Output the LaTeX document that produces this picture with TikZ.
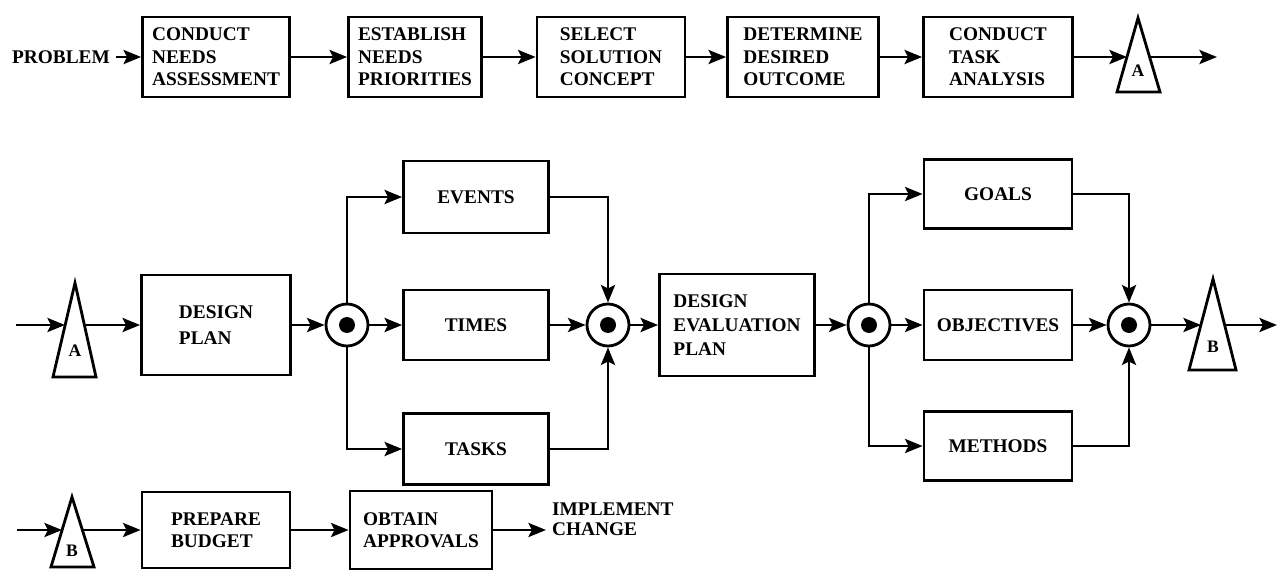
\documentclass[tikz,border=0pt]{standalone}
\usepackage{fontspec}
\setmainfont{Liberation Serif}
\usetikzlibrary{arrows.meta}
\tikzset {>={Stealth[length=10pt,width=8pt,inset=2pt]}}

\begin{document}
\begin{tikzpicture}[x=0.02cm,y=-0.02cm,
  font=\fontsize{11}{12.8}\selectfont\bfseries,
  box/.style={draw,line width=1.6pt,align=left,inner sep=2pt},
  flow/.style={->,line width=1.6pt},
  tri/.style={line width=1.6pt,line join=miter},
  tag/.style={font=\fontsize{10}{10}\selectfont\bfseries,inner sep=0pt},
  dot/.style={draw,circle,line width=1.6pt,minimum size=0.84cm,inner sep=0pt,
    path picture={\fill (path picture bounding box.center) circle (0.16cm);}}]
\useasboundingbox (0,0) rectangle (1278,571);

% top row
\node[anchor=east] (prob) at (116,57) {PROBLEM};
\node[box,minimum width=2.94cm,minimum height=1.6cm] (needs) at (216,57) {CONDUCT\\NEEDS\\ASSESSMENT};
\node[box,minimum width=2.66cm,minimum height=1.6cm] (prio) at (415,57) {ESTABLISH\\NEEDS\\PRIORITIES};
\node[box,minimum width=2.96cm,minimum height=1.6cm] (concept) at (611,57) {SELECT\\SOLUTION\\CONCEPT};
\node[box,minimum width=3.02cm,minimum height=1.6cm] (outcome) at (803,57) {DETERMINE\\DESIRED\\OUTCOME};
\node[box,minimum width=2.98cm,minimum height=1.6cm] (task) at (998,57) {CONDUCT\\TASK\\ANALYSIS};
\draw[tri] (1117,92) -- (1138,18) -- (1160,92) -- cycle;
\node[tag] (tagA1) at (1138,71) {A};
\coordinate (inA1) at (1127,57);
\coordinate (outA1) at (1150,57);
\coordinate (endA1) at (1217,57);
\draw[flow] (prob) -- (needs);
\draw[flow] (needs) -- (prio);
\draw[flow] (prio) -- (concept);
\draw[flow] (concept) -- (outcome);
\draw[flow] (outcome) -- (task);
\draw[flow] (task) -- (inA1);
\draw[flow] (outA1) -- (endA1);

% middle row
\coordinate (startA2) at (16,325);
\draw[tri] (53,377) -- (75,283) -- (96,377) -- cycle;
\node[tag] (tagA2) at (75,351) {A};
\coordinate (inA2) at (65,325);
\coordinate (outA2) at (85,325);
\node[box,minimum width=2.98cm,minimum height=2cm] (plan) at (216,325) {DESIGN\\[2pt]PLAN};
\node[dot] (c1) at (347,325) {};
\node[box,minimum width=2.9cm,minimum height=1.44cm] (events) at (476,197) {EVENTS};
\node[box,minimum width=2.9cm,minimum height=1.4cm] (times) at (476,325) {TIMES};
\node[box,minimum width=2.9cm,minimum height=1.42cm] (tasks) at (476,449) {TASKS};
\node[dot] (c2) at (608,325) {};
\node[box,minimum width=3.1cm,minimum height=2.04cm] (evalplan) at (737,325) {DESIGN\\[1pt]EVALUATION\\[1pt]PLAN};
\node[dot] (c3) at (869,325) {};
\node[box,minimum width=2.96cm,minimum height=1.38cm] (goals) at (998,194) {GOALS};
\node[box,minimum width=2.96cm,minimum height=1.4cm] (objectives) at (998,325) {OBJECTIVES};
\node[box,minimum width=2.96cm,minimum height=1.38cm] (methods) at (998,446) {METHODS};
\node[dot] (c4) at (1129,325) {};
\draw[tri] (1189,370) -- (1213,279) -- (1236,370) -- cycle;
\node[tag] (tagB1) at (1213,347) {B};
\coordinate (inB1) at (1201,325);
\coordinate (outB1) at (1225,325);
\coordinate (endB1) at (1277,325);
\draw[flow] (startA2) -- (inA2);
\draw[flow] (outA2) -- (plan);
\draw[flow] (plan) -- (c1);
\draw[flow] (c1) |- (events);
\draw[flow] (c1) -- (times);
\draw[flow] (c1) |- (tasks);
\draw[flow] (events) -| (c2);
\draw[flow] (times) -- (c2);
\draw[flow] (tasks) -| (c2);
\draw[flow] (c2) -- (evalplan);
\draw[flow] (evalplan) -- (c3);
\draw[flow] (c3) |- (goals);
\draw[flow] (c3) -- (objectives);
\draw[flow] (c3) |- (methods);
\draw[flow] (goals) -| (c4);
\draw[flow] (objectives) -- (c4);
\draw[flow] (methods) -| (c4);
\draw[flow] (c4) -- (inB1);
\draw[flow] (outB1) -- (endB1);

% bottom row
\coordinate (startB2) at (17,530);
\draw[tri] (51,567) -- (72,497) -- (94,567) -- cycle;
\node[tag] (tagB2) at (72,551) {B};
\coordinate (inB2) at (62,530);
\coordinate (outB2) at (83,530);
\node[box,minimum width=2.96cm,minimum height=1.52cm] (budget) at (216,530) {PREPARE\\BUDGET};
\node[box,minimum width=2.84cm,minimum height=1.56cm] (approvals) at (421,530) {OBTAIN\\APPROVALS};
\node[anchor=west,align=left,font=\fontsize{11}{11.5}\selectfont\bfseries] (change) at (546,519) {IMPLEMENT\\CHANGE};
\draw[flow] (startB2) -- (inB2);
\draw[flow] (outB2) -- (budget);
\draw[flow] (budget) -- (approvals);
\draw[flow] (approvals) -- (approvals -| change.west);
\end{tikzpicture}
\end{document}
